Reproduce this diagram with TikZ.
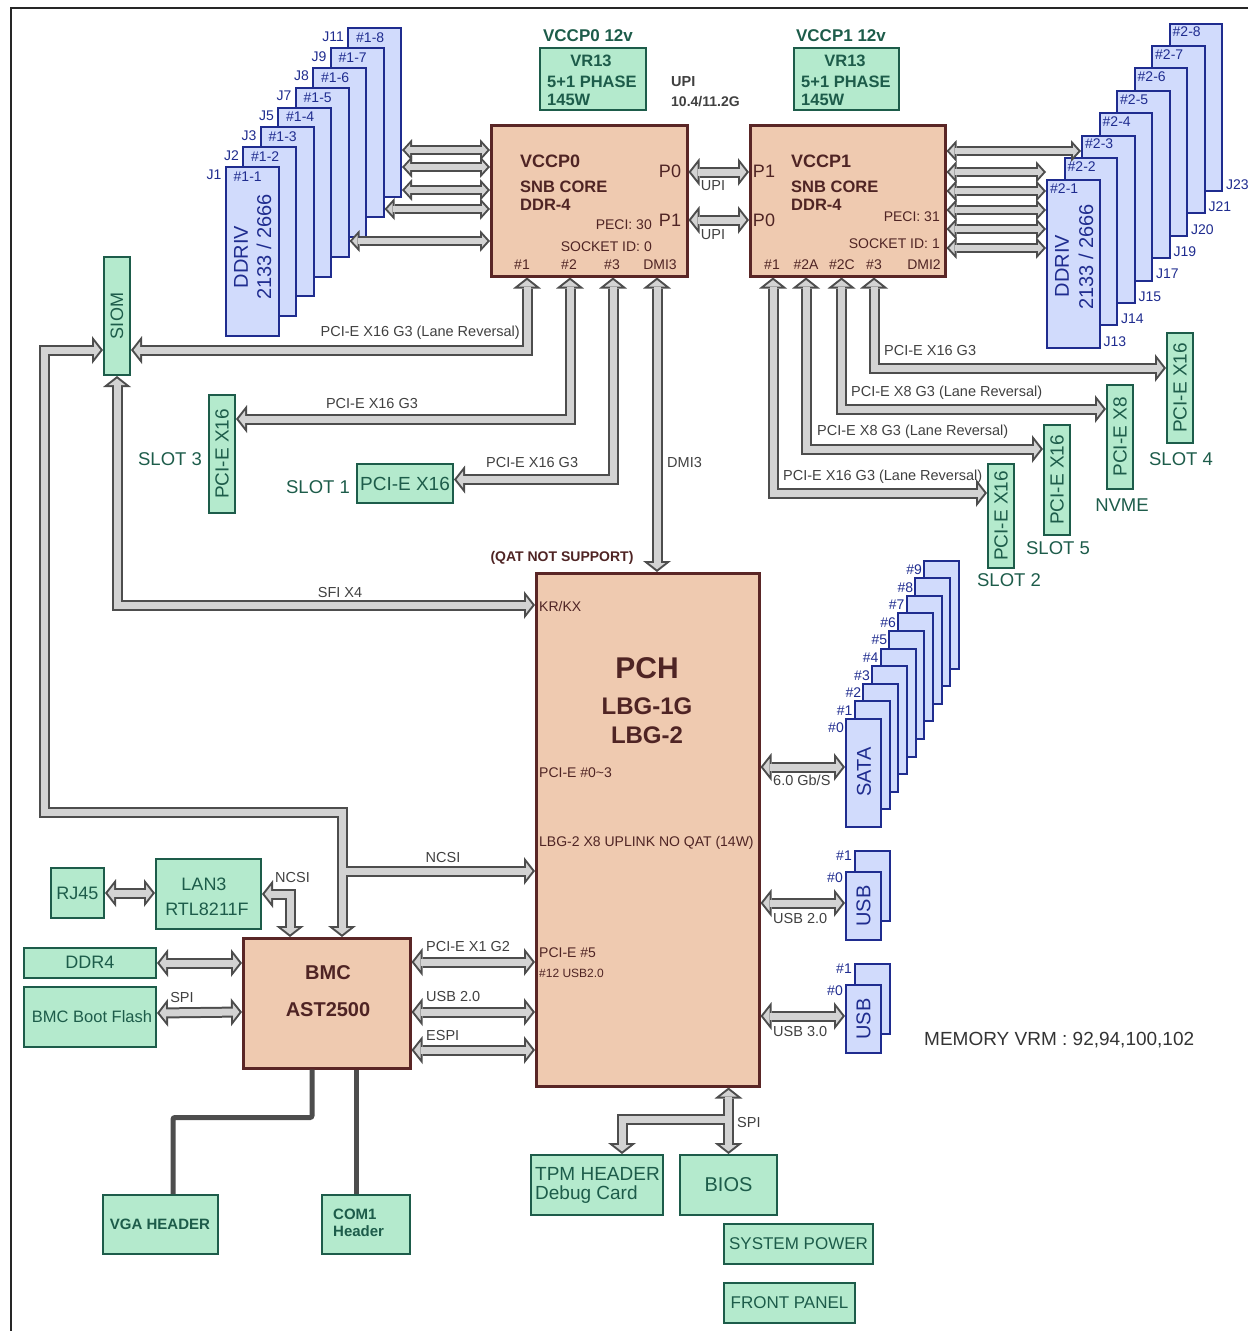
\documentclass[tikz,border=0pt]{standalone}
\usepackage{fontspec}
\setmainfont{Liberation Sans}
\usetikzlibrary{arrows.meta,calc}

\definecolor{cpufill}{HTML}{EFCAB0}
\definecolor{cpuline}{HTML}{5A2626}
\definecolor{cputxt}{HTML}{4F2424}
\definecolor{grnfill}{HTML}{B4EACD}
\definecolor{grnline}{HTML}{1D5C4A}
\definecolor{grntxt}{HTML}{1D5C4A}
\definecolor{blufill}{HTML}{D1DBFC}
\definecolor{bluline}{HTML}{1F2C8F}
\definecolor{blutxt}{HTML}{1F2C8F}
\definecolor{busfill}{HTML}{D3D3D3}
\definecolor{busline}{HTML}{4D4D4D}
\definecolor{lblgray}{HTML}{404040}

\newcommand\fnt[1]{\fontsize{#1}{#1}\selectfont}

\tikzset{
  chip/.style={draw=cpuline, fill=cpufill, line width=2.5pt, inner sep=0pt, anchor=north west},
  gbox/.style={draw=grnline, fill=grnfill, line width=2pt, inner sep=0pt, anchor=north west},
  bbox/.style={draw=bluline, fill=blufill, line width=2pt, inner sep=0pt, anchor=north west},
  txt/.style={inner sep=0pt},
  chiptxt/.style={txt, text=cputxt},
  gtxt/.style={txt, text=grntxt},
  btxt/.style={txt, text=blutxt},
  lbl/.style={txt, text=lblgray, font=\fnt{14.5}},
  busout/.style={draw=busline, line width=11pt, >={Triangle[length=11pt,width=28pt,line width=0pt]}},
  busin/.style={draw=busfill, line width=7pt, shorten <=2.6pt, shorten >=2.6pt,
    >={Triangle[length=6.4pt,width=16.4pt,line width=0pt]}},
  memout/.style={draw=busline, line width=10pt, >={Triangle[length=10pt,width=22pt,line width=0pt]}},
  memin/.style={draw=busfill, line width=6pt, shorten <=2.7pt, shorten >=2.7pt,
    >={Triangle[length=5.3pt,width=11.7pt,line width=0pt]}},
  wire/.style={draw=busline, line width=5pt, rounded corners=2pt},
}

\begin{document}
\begin{tikzpicture}[x=1pt,y=-1pt]
    \useasboundingbox (0,0) rectangle (1248,1331);
    \draw[line width=2.5pt, black!85] (1248,8) -- (11,8) -- (11,1331);

    % processors
    \node[chip, minimum width=196pt, minimum height=151pt] (cpu0) at (490,124) {};
    \node[chip, minimum width=195pt, minimum height=151pt] (cpu1) at (749,124) {};

    \node[chiptxt, font=\bfseries\fnt{18}, anchor=west] (c0name) at (520,161) {VCCP0};
    \node[chiptxt, font=\bfseries\fnt{16.5}, anchor=west] (c0core) at (520,187) {SNB CORE};
    \node[chiptxt, font=\bfseries\fnt{16.5}, anchor=west] (c0ddr) at (520,205) {DDR-4};
    \node[chiptxt, font=\fnt{18}] (c0p0) at (670,171) {P0};
    \node[chiptxt, font=\fnt{18}] (c0p1) at (670,220) {P1};
    \node[chiptxt, font=\fnt{14}, anchor=east] (c0peci) at (652,225) {PECI: 30};
    \node[chiptxt, font=\fnt{14}, anchor=east] (c0sock) at (652,247) {SOCKET ID: 0};
    \node[chiptxt, font=\fnt{14}] (c0n1) at (522,265) {\#1};
    \node[chiptxt, font=\fnt{14}] (c0n2) at (569,265) {\#2};
    \node[chiptxt, font=\fnt{14}] (c0n3) at (612,265) {\#3};
    \node[chiptxt, font=\fnt{14}] (c0dmi) at (660,265) {DMI3};

    \node[chiptxt, font=\bfseries\fnt{18}, anchor=west] (c1name) at (791,161) {VCCP1};
    \node[chiptxt, font=\bfseries\fnt{16.5}, anchor=west] (c1core) at (791,187) {SNB CORE};
    \node[chiptxt, font=\bfseries\fnt{16.5}, anchor=west] (c1ddr) at (791,205) {DDR-4};
    \node[chiptxt, font=\fnt{18}] (c1p1) at (764,171) {P1};
    \node[chiptxt, font=\fnt{18}] (c1p0) at (764,220) {P0};
    \node[chiptxt, font=\fnt{14}, anchor=east] (c1peci) at (940,217) {PECI: 31};
    \node[chiptxt, font=\fnt{14}, anchor=east] (c1sock) at (940,244) {SOCKET ID: 1};
    \node[chiptxt, font=\fnt{14}] (c1n1) at (772,265) {\#1};
    \node[chiptxt, font=\fnt{14}] (c1n2a) at (806,265) {\#2A};
    \node[chiptxt, font=\fnt{14}] (c1n2c) at (842,265) {\#2C};
    \node[chiptxt, font=\fnt{14}] (c1n3) at (874,265) {\#3};
    \node[chiptxt, font=\fnt{14}] (c1dmi) at (924,265) {DMI2};

    % regulators
    \node[gbox, minimum width=106pt, minimum height=62pt] (vr0) at (539,47) {};
    \node[gtxt, font=\bfseries\fnt{17}] (vr0cap) at (588,36) {VCCP0 12v};
    \node[gtxt, font=\bfseries\fnt{16.5}] (vr0a) at (591,61) {VR13};
    \node[gtxt, font=\bfseries\fnt{16.5}, anchor=west] (vr0b) at (547,82) {5+1 PHASE};
    \node[gtxt, font=\bfseries\fnt{16.5}, anchor=west] (vr0c) at (547,100) {145W};
    \node[gbox, minimum width=105pt, minimum height=62pt] (vr1) at (793,47) {};
    \node[gtxt, font=\bfseries\fnt{17}] (vr1cap) at (841,36) {VCCP1 12v};
    \node[gtxt, font=\bfseries\fnt{16.5}] (vr1a) at (845,61) {VR13};
    \node[gtxt, font=\bfseries\fnt{16.5}, anchor=west] (vr1b) at (801,82) {5+1 PHASE};
    \node[gtxt, font=\bfseries\fnt{16.5}, anchor=west] (vr1c) at (801,100) {145W};
    \node[txt, text=lblgray, font=\bfseries\fnt{14.5}, anchor=west] (upia) at (671,82) {UPI};
    \node[txt, text=lblgray, font=\bfseries\fnt{14}, anchor=west] (upib) at (671,102) {10.4/11.2G};

    % memory slots
    \foreach \k/\j in {8/J11,7/J9,6/J8,5/J7,4/J5,3/J3,2/J2,1/J1} {
        \node[bbox, minimum width=53pt, minimum height=169pt] (dimma\k) at ({224.5+17.5*(\k-1)},{166-19.8*(\k-1)}) {};
        \node[btxt, font=\fnt{14}, anchor=west] (dimmalbl\k) at ([xshift=9pt,yshift=-10.5pt]dimma\k.north west) {\#1-\k};
        \node[btxt, font=\fnt{14}, anchor=east] (dimmaj\k) at ([xshift=-3pt,yshift=-9pt]dimma\k.north west) {\j};
    }
    \node[btxt, font=\fnt{20}, rotate=90] (dimmat1) at (241,257) {DDRIV};
    \node[btxt, font=\fnt{20}, rotate=90] (dimmat2) at (264,247) {2133 / 2666};

    \foreach \k/\j in {8/J23,7/J21,6/J20,5/J19,4/J17,3/J15,2/J14,1/J13} {
        \node[bbox, minimum width=52.5pt, minimum height=167.5pt] (dimmb\k) at ({1046+17.5*(\k-1)},{179.3-22.4*(\k-1)}) {};
        \node[btxt, font=\fnt{14}, anchor=west] (dimmblbl\k) at ([xshift=4pt,yshift=-9.5pt]dimmb\k.north west) {\#2-\k};
        \node[btxt, font=\fnt{14}, anchor=west] (dimmbj\k) at ([xshift=3pt,yshift=7.5pt]dimmb\k.south east) {\j};
    }
    \node[btxt, font=\fnt{20}, rotate=90] (dimmbt1) at (1062,266) {DDRIV};
    \node[btxt, font=\fnt{20}, rotate=90] (dimmbt2) at (1086,257) {2133 / 2666};

    % expansion slots
    \node[gbox, minimum width=26pt, minimum height=118pt] (siom) at (103,256) {};
    \node[gtxt, font=\fnt{18}, rotate=90] (siomt) at (siom.center) {SIOM};
    \node[gbox, minimum width=26pt, minimum height=118pt] (slot3) at (208,394) {};
    \node[gtxt, font=\fnt{19}, rotate=90] (slot3t) at (slot3.center) {PCI-E X16};
    \node[gtxt, font=\fnt{18.5}] (slot3n) at (170,459) {SLOT 3};
    \node[gbox, minimum width=96pt, minimum height=39pt] (slot1) at (356,463) {};
    \node[gtxt, font=\fnt{19}] (slot1t) at (slot1.center) {PCI-E X16};
    \node[gtxt, font=\fnt{18.5}] (slot1n) at (318,487) {SLOT 1};
    \node[gbox, minimum width=26pt, minimum height=104pt] (slot2) at (987,463) {};
    \node[gtxt, font=\fnt{19}, rotate=90] (slot2t) at (slot2.center) {PCI-E X16};
    \node[gtxt, font=\fnt{18.5}] (slot2n) at (1009,580) {SLOT 2};
    \node[gbox, minimum width=26pt, minimum height=110pt] (slot5) at (1043,424) {};
    \node[gtxt, font=\fnt{19}, rotate=90] (slot5t) at (slot5.center) {PCI-E X16};
    \node[gtxt, font=\fnt{18.5}] (slot5n) at (1058,548) {SLOT 5};
    \node[gbox, minimum width=26pt, minimum height=104pt] (nvme) at (1106,384) {};
    \node[gtxt, font=\fnt{19}, rotate=90] (nvmet) at (nvme.center) {PCI-E X8};
    \node[gtxt, font=\fnt{18.5}] (nvmen) at (1122,505) {NVME};
    \node[gbox, minimum width=26pt, minimum height=110pt] (slot4) at (1166,332) {};
    \node[gtxt, font=\fnt{19}, rotate=90] (slot4t) at (slot4.center) {PCI-E X16};
    \node[gtxt, font=\fnt{18.5}] (slot4n) at (1181,459) {SLOT 4};

    % chipset
    \node[chip, minimum width=223pt, minimum height=513pt] (pch) at (535,572) {};
    \node[chiptxt, font=\bfseries\fnt{30}] (pchname) at (647,668) {PCH};
    \node[chiptxt, font=\bfseries\fnt{24}] (pchg1) at (647,706) {LBG-1G};
    \node[chiptxt, font=\bfseries\fnt{24}] (pchg2) at (647,735) {LBG-2};
    \node[chiptxt, font=\fnt{14}, anchor=west] (pchkr) at (539,606) {KR/KX};
    \node[chiptxt, font=\fnt{14}, anchor=west] (pchpe) at (539,773) {PCI-E \#0\textasciitilde3};
    \node[chiptxt, font=\fnt{14}, anchor=west] (pchup) at (539,843) {LBG-2 X8 UPLINK NO QAT (14W)};
    \node[chiptxt, font=\fnt{14}, anchor=west] (pchp5) at (539,953) {PCI-E \#5};
    \node[chiptxt, font=\fnt{12}, anchor=west] (pchusb) at (539,973) {\#12 USB2.0};
    \node[chiptxt, font=\bfseries\fnt{14}] (qat) at (562,558) {(QAT NOT SUPPORT)};

    % sata and usb
    \foreach \k in {9,...,0} {
        \node[bbox, minimum width=35pt, minimum height=108pt] (sata\k) at ({845+8.67*\k},{718-17.6*\k}) {};
        \node[btxt, font=\fnt{14}, anchor=east] (satalbl\k) at ([xshift=-1pt,yshift=-10pt]sata\k.north west) {\#\k};
    }
    \node[btxt, font=\fnt{20}, rotate=90] (satat) at (864,772) {SATA};

    \node[bbox, minimum width=35pt, minimum height=70pt] (usba1) at (854,850) {};
    \node[bbox, minimum width=35pt, minimum height=68pt] (usba0) at (845,871) {};
    \node[btxt, font=\fnt{14}, anchor=east] (usbal1) at (852,856) {\#1};
    \node[btxt, font=\fnt{14}, anchor=east] (usbal0) at (843,878) {\#0};
    \node[btxt, font=\fnt{20}, rotate=90] (usbat) at (usba0.center) {USB};
    \node[bbox, minimum width=35pt, minimum height=70pt] (usbb1) at (854,963) {};
    \node[bbox, minimum width=35pt, minimum height=68pt] (usbb0) at (845,984) {};
    \node[btxt, font=\fnt{14}, anchor=east] (usbbl1) at (852,969) {\#1};
    \node[btxt, font=\fnt{14}, anchor=east] (usbbl0) at (843,991) {\#0};
    \node[btxt, font=\fnt{20}, rotate=90] (usbbt) at (usbb0.center) {USB};

    \node[txt, text=black!80, font=\fnt{19}, anchor=west] (vrm) at (924,1040) {MEMORY VRM : 92,94,100,102};

    % bmc side
    \node[chip, minimum width=167pt, minimum height=130pt] (bmc) at (242,937) {};
    \node[chiptxt, font=\bfseries\fnt{20}] (bmca) at (328,973) {BMC};
    \node[chiptxt, font=\bfseries\fnt{20}] (bmcb) at (328,1010) {AST2500};
    \node[gbox, minimum width=53pt, minimum height=50pt] (rj45) at (50,867) {};
    \node[gtxt, font=\fnt{18}] (rj45t) at (rj45.center) {RJ45};
    \node[gbox, minimum width=105pt, minimum height=70pt] (lan) at (155,858) {};
    \node[gtxt, font=\fnt{18}] (lana) at (204,884) {LAN3};
    \node[gtxt, font=\fnt{18}] (lanb) at (207,909) {RTL8211F};
    \node[gbox, minimum width=132pt, minimum height=30pt] (ddr) at (23,947) {};
    \node[gtxt, font=\fnt{18}] (ddrt) at (90,962) {DDR4};
    \node[gbox, minimum width=132pt, minimum height=60pt] (flash) at (23,986) {};
    \node[gtxt, font=\fnt{16.5}] (flasht) at (92,1017) {BMC Boot Flash};
    \node[gbox, minimum width=115pt, minimum height=59pt] (vga) at (102,1194) {};
    \node[gtxt, font=\bfseries\fnt{15}] (vgat) at (160,1224) {VGA HEADER};
    \node[gbox, minimum width=88pt, minimum height=59pt] (com) at (321,1194) {};
    \node[gtxt, font=\bfseries\fnt{15}, anchor=west] (coma) at (333,1214) {COM1};
    \node[gtxt, font=\bfseries\fnt{15}, anchor=west] (comb) at (333,1231) {Header};

    % bottom headers
    \node[gbox, minimum width=132pt, minimum height=60pt] (tpm) at (530,1154) {};
    \node[gtxt, font=\fnt{19}, anchor=west] (tpma) at (535,1174) {TPM HEADER};
    \node[gtxt, font=\fnt{19}, anchor=west] (tpmb) at (535,1195) {Debug Card};
    \node[gbox, minimum width=97pt, minimum height=60pt] (bios) at (679,1154) {};
    \node[gtxt, font=\fnt{20}] (biost) at (bios.center) {BIOS};
    \node[gbox, minimum width=149pt, minimum height=40pt] (power) at (723,1223) {};
    \node[gtxt, font=\fnt{17}] (powert) at (power.center) {SYSTEM POWER};
    \node[gbox, minimum width=131pt, minimum height=40pt] (panel) at (723,1282) {};
    \node[gtxt, font=\fnt{17}] (panelt) at (panel.center) {FRONT PANEL};

    \coordinate (ncsicorner) at (44,812);
    \coordinate (ncsitap) at (342,871);
    \coordinate (spitap) at (727.5,1119.5);

    % memory buses
    \foreach \y/\d in {150/dimma8,167/dimma8,190/dimma8,209/dimma7,241/dimma5} {
        \draw[memout,<->] (cpu0.west |- 0,\y) -- (\d.east |- 0,\y);
        \draw[memin,<->] (cpu0.west |- 0,\y) -- (\d.east |- 0,\y);
    }
    \foreach \y/\d in {151/dimmb3,172/dimmb1,191/dimmb1,210/dimmb1,229/dimmb1,248/dimmb1} {
        \draw[memout,<->] (cpu1.east |- 0,\y) -- (\d.west |- 0,\y);
        \draw[memin,<->] (cpu1.east |- 0,\y) -- (\d.west |- 0,\y);
    }

    % other buses, outline first then fill
    \foreach \p in {busout,busin} {
        \draw[\p,<->] (cpu0.east |- 0,172) -- (cpu1.west |- 0,172);
        \draw[\p,<->] (cpu0.east |- 0,220) -- (cpu1.west |- 0,220);
        \draw[\p,<->] ([xshift=37pt]cpu0.south west) |- ([yshift=-34pt]siom.east);
        \draw[\p,<->] ([xshift=80pt]cpu0.south west) |- ([yshift=35pt]slot3.east);
        \draw[\p,<->] ([xshift=123pt]cpu0.south west) |- ([yshift=4pt]slot1.east);
        \draw[\p,<->] ([xshift=167pt]cpu0.south west) -- ([xshift=122pt]pch.north west);
        \draw[\p,<->] ([xshift=24pt]cpu1.south west) |- ([yshift=23pt]slot2.west);
        \draw[\p,<->] ([xshift=57pt]cpu1.south west) |- ([yshift=31pt]slot5.west);
        \draw[\p,<->] ([xshift=92.5pt]cpu1.south west) |- ([yshift=28pt]nvme.west);
        \draw[\p,<->] ([xshift=125pt]cpu1.south west) |- ([yshift=20pt]slot4.west);
        \draw[\p,<->] (siom.south) |- ([yshift=-33pt]pch.north west);
        \draw[\p,<->] ([yshift=-34pt]siom.west) -| (ncsicorner) -| ([xshift=100pt]bmc.north west);
        \draw[\p,->] (ncsitap) -- (pch.west |- ncsitap);
        \draw[\p,<->] (lan.east |- 0,894) -| ([xshift=48pt]bmc.north west);
        \draw[\p,<->] (rj45.east) -- (lan.west |- rj45.east);
        \draw[\p,<->] (ddr.east) -- (bmc.west |- ddr.east);
        \draw[\p,<->] ([yshift=4pt]flash.east) -- (bmc.west |- 0,1012);
        \draw[\p,<->] (bmc.east |- 0,962) -- (pch.west |- 0,962);
        \draw[\p,<->] (bmc.east |- 0,1012) -- (pch.west |- 0,1012);
        \draw[\p,<->] (bmc.east |- 0,1050) -- (pch.west |- 0,1050);
        \draw[\p,<->] (pch.east |- 0,767) -- (sata0.west |- 0,767);
        \draw[\p,<->] (pch.east |- 0,903) -- (usba0.west |- 0,903);
        \draw[\p,<->] (pch.east |- 0,1016) -- (usbb0.west |- 0,1016);
        \draw[\p,<->] (pch.south -| bios.north) -- (bios.north);
        \draw[\p,->] (spitap) -| ([xshift=92pt]tpm.north west);
    }

    \draw[wire] ([xshift=70pt]bmc.south west) -- ++(0,48) -| ([xshift=71pt]vga.north west);
    \draw[wire] ([xshift=114pt]bmc.south west) -- ([xshift=114pt]bmc.south west |- com.north);

    % bus labels
    \node[lbl] (upil1) at (713,186) {UPI};
    \node[lbl] (upil2) at (713,235) {UPI};
    \node[lbl, anchor=east] (siomlbl) at (520,333) {PCI-E X16 G3 (Lane Reversal)};
    \node[lbl] (slot3lbl) at (372,404) {PCI-E X16 G3};
    \node[lbl, anchor=west] (slot1lbl) at (486,463) {PCI-E X16 G3};
    \node[lbl, anchor=west] (dmilbl) at (667,463) {DMI3};
    \node[lbl, anchor=west] (slot4lbl) at (884,351) {PCI-E X16 G3};
    \node[lbl, anchor=west] (nvmelbl) at (851,393) {PCI-E X8 G3 (Lane Reversal)};
    \node[lbl, anchor=west] (slot5lbl) at (817,432) {PCI-E X8 G3 (Lane Reversal)};
    \node[lbl, anchor=west] (slot2lbl) at (783,477) {PCI-E X16 G3 (Lane Reversal)};
    \node[lbl] (sfilbl) at (340,592) {SFI X4};
    \node[lbl] (ncsilbl) at (443,857) {NCSI};
    \node[lbl, anchor=west] (lanlbl) at (275,877) {NCSI};
    \node[lbl] (spibmc) at (182,997) {SPI};
    \node[lbl, anchor=west] (pcielbl) at (426,946) {PCI-E X1 G2};
    \node[lbl, anchor=west] (usbbmc) at (426,996) {USB 2.0};
    \node[lbl, anchor=west] (espilbl) at (426,1035) {ESPI};
    \node[lbl, anchor=west] (spipch) at (737,1122) {SPI};
    \node[lbl, anchor=west] (satalbl) at (773,780) {6.0 Gb/S};
    \node[lbl, anchor=west] (usb2lbl) at (773,918) {USB 2.0};
    \node[lbl, anchor=west] (usb3lbl) at (773,1031) {USB 3.0};
\end{tikzpicture}
\end{document}
